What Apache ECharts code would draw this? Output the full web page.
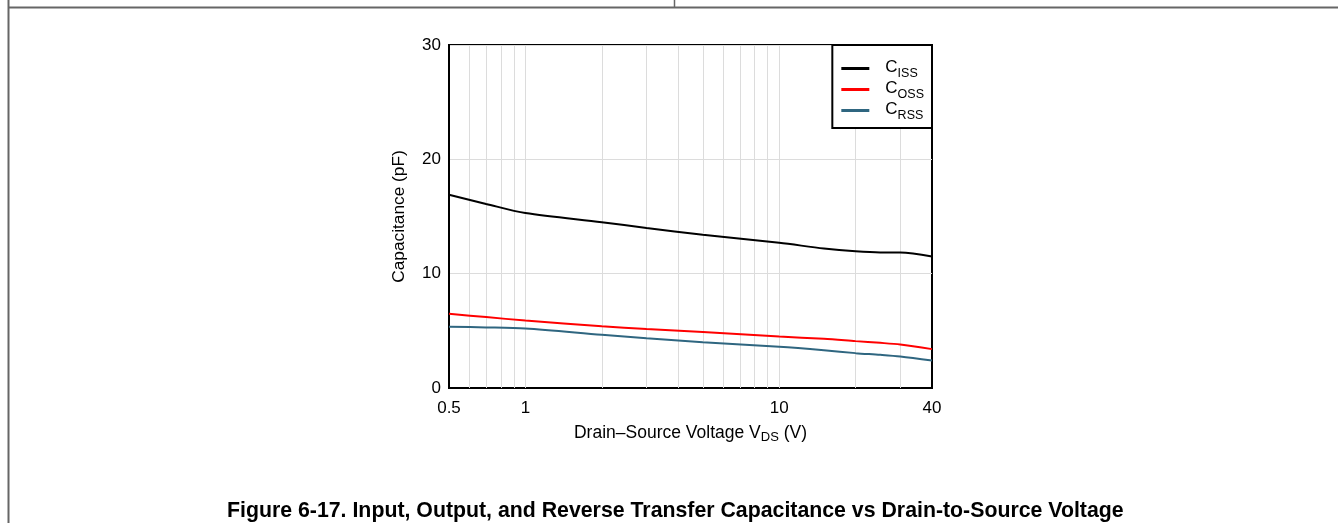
<!DOCTYPE html>
<html>
<head>
<meta charset="utf-8">
<script src="https://cdn.jsdelivr.net/npm/echarts@6/dist/echarts.min.js"></script>
<style>
html,body{margin:0;padding:0;background:#fff;}
#c{width:1338px;height:523px;}
</style>
</head>
<body>
<div id="c"></div>
<script>
const voltages = [0.5, 0.7, 1, 2, 3, 5, 10, 15, 20, 25, 30, 40];
const ciss = [16.9, 16.1, 15.3, 14.5, 14.0, 13.4, 12.7, 12.2, 11.95, 11.85, 11.85, 11.5];
const coss = [6.5, 6.2, 5.9, 5.4, 5.15, 4.9, 4.5, 4.3, 4.1, 3.95, 3.8, 3.4];
const crss = [5.35, 5.3, 5.2, 4.65, 4.35, 4.0, 3.6, 3.3, 3.05, 2.9, 2.75, 2.4];
const xGridValues = [0.6, 0.7, 0.8, 0.9, 1, 2, 3, 4, 5, 6, 7, 8, 9, 10, 20, 30];
const seriesNames = ['CISS', 'COSS', 'CRSS'];
const seriesSubs = {CISS: 'ISS', COSS: 'OSS', CRSS: 'RSS'};
const yTicks = [0, 10, 20, 30];

const FONT = 'Liberation Sans, Arial, sans-serif';
const pair = (xs, ys) => xs.map((x, i) => [x, ys[i]]);

const chart = echarts.init(document.getElementById('c'), null, {renderer: 'canvas'});
chart.setOption({
  animation: false,
  backgroundColor: '#fff',
  title: {
    text: 'Figure 6-17. Input, Output, and Reverse Transfer Capacitance vs Drain-to-Source Voltage',
    left: 222,
    top: 496,
    textStyle: {fontFamily: FONT, fontSize: 21.3, fontWeight: 'bold', color: '#000'}
  },
  grid: {
    left: 449, right: 406, top: 45, bottom: 135,
    show: true, borderColor: '#000', borderWidth: 2, backgroundColor: 'transparent'
  },
  legend: {
    data: seriesNames,
    orient: 'vertical',
    right: 406, top: 45, z: 20,
    backgroundColor: '#fff',
    borderColor: '#000', borderWidth: 2, borderRadius: 0,
    padding: [14, 8, 6, 9],
    icon: 'rect',
    itemWidth: 28, itemHeight: 3, itemGap: 0,
    formatter: n => '{m|C}{s|' + seriesSubs[n] + '}',
    textStyle: {
      fontFamily: FONT, color: '#000', padding: [0, 0, 0, 11],
      rich: {
        m: {fontFamily: FONT, fontSize: 17, color: '#000', verticalAlign: 'bottom', padding: [2, 0, 4, 0]},
        s: {fontFamily: FONT, fontSize: 12.5, color: '#000', verticalAlign: 'bottom'}
      }
    }
  },
  xAxis: {
    type: 'log', logBase: 10, min: 0.5, max: 40,
    name: 'Drain\u2013Source Voltage V{s|DS} (V)',
    nameLocation: 'middle', nameGap: 32,
    nameTextStyle: {
      fontFamily: FONT, fontSize: 17.5, color: '#000', verticalAlign: 'bottom', lineHeight: 22,
      rich: {s: {fontFamily: FONT, fontSize: 13, color: '#000', verticalAlign: 'bottom', lineHeight: 10}}
    },
    axisLine: {show: true, lineStyle: {color: '#000', width: 2}},
    axisTick: {show: false},
    splitLine: {show: false},
    minorSplitLine: {show: false},
    axisLabel: {
      fontFamily: FONT, fontSize: 17, color: '#000', margin: 12,
      showMinLabel: true, showMaxLabel: true,
      formatter: v => String(+v.toPrecision(3))
    }
  },
  yAxis: {
    type: 'value', min: yTicks[0], max: yTicks[yTicks.length - 1], interval: 10,
    name: 'Capacitance (pF)',
    nameLocation: 'middle', nameGap: 41, nameRotate: 90,
    nameTextStyle: {fontFamily: FONT, fontSize: 17.3, color: '#000'},
    axisLine: {show: true, lineStyle: {color: '#000', width: 2}},
    axisTick: {show: false},
    splitLine: {show: true, lineStyle: {color: '#dcdcdc', width: 1}},
    axisLabel: {fontFamily: FONT, fontSize: 17, color: '#000', margin: 8}
  },
  series: [
    {
      name: 'grid', type: 'line', data: [], z: 1, silent: true,
      markLine: {
        silent: true, symbol: ['none', 'none'], animation: false, z: 1,
        label: {show: false},
        lineStyle: {color: '#dcdcdc', width: 1, type: 'solid'},
        emphasis: {disabled: true},
        data: xGridValues.map(v => ({xAxis: v}))
      }
    },
    {name: 'CISS', type: 'line', data: pair(voltages, ciss), symbol: 'none', smooth: 0.3, z: 5,
     lineStyle: {color: '#000', width: 2}, itemStyle: {color: '#000'}},
    {name: 'COSS', type: 'line', data: pair(voltages, coss), symbol: 'none', smooth: 0.3, z: 5,
     lineStyle: {color: '#ff0000', width: 2}, itemStyle: {color: '#ff0000'}},
    {name: 'CRSS', type: 'line', data: pair(voltages, crss), symbol: 'none', smooth: 0.3, z: 5,
     lineStyle: {color: '#2f6680', width: 2}, itemStyle: {color: '#2f6680'}}
  ],
  graphic: [
    {type: 'line', shape: {x1: 8.5, y1: 0, x2: 8.5, y2: 523}, style: {stroke: '#666', lineWidth: 2}, silent: true},
    {type: 'line', shape: {x1: 8, y1: 7.5, x2: 1338, y2: 7.5}, style: {stroke: '#666', lineWidth: 2}, silent: true},
    {type: 'line', shape: {x1: 674.5, y1: 0, x2: 674.5, y2: 7}, style: {stroke: '#666', lineWidth: 1.5}, silent: true}
  ]
});
</script>
</body>
</html>
